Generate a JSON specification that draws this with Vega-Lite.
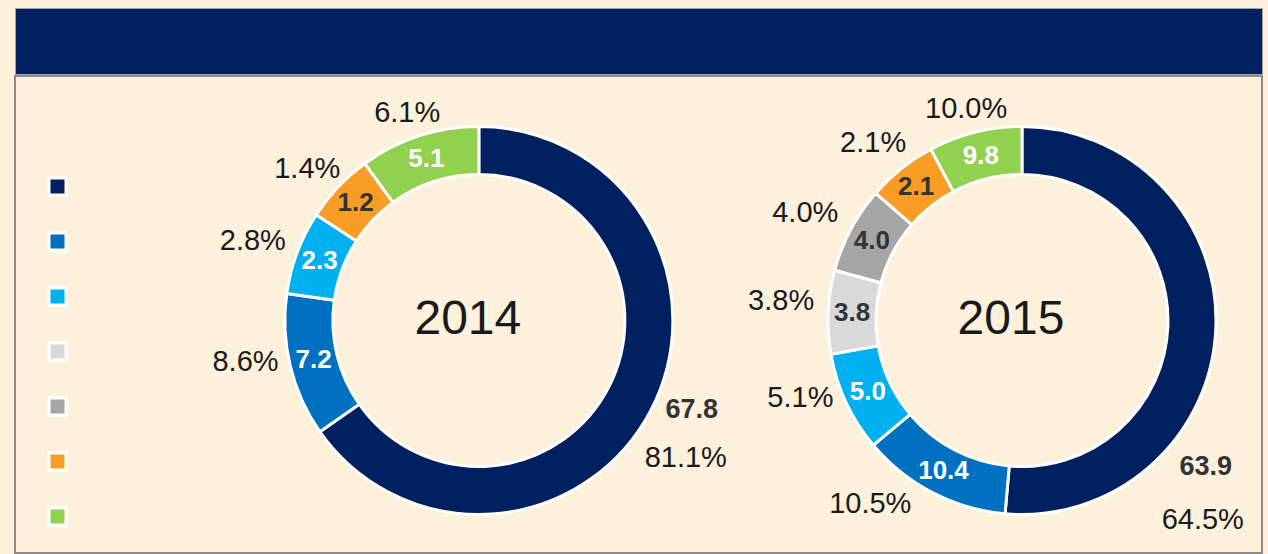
{
  "$schema": "https://vega.github.io/schema/vega-lite/v6.json",
  "background": "#FDF1DC",
  "padding": {"left": 14, "top": 7, "right": 7, "bottom": 2},
  "config": {"view": {"stroke": null}, "font": "Liberation Sans", "text": {"font": "Liberation Sans"}},
  "spacing": 0,
  "datasets": {
    "d": [
      {"year": "2014", "series": "S1", "value": 67.8, "share": 0.811, "arc": 235},
      {"year": "2014", "series": "S2", "value": 7.2, "share": 0.086, "arc": 43},
      {"year": "2014", "series": "S3", "value": 2.3, "share": 0.028, "arc": 25},
      {"year": "2014", "series": "S6", "value": 1.2, "share": 0.014, "arc": 21},
      {"year": "2014", "series": "S7", "value": 5.1, "share": 0.061, "arc": 36},
      {"year": "2015", "series": "S1", "value": 63.9, "share": 0.645, "arc": 185},
      {"year": "2015", "series": "S2", "value": 10.4, "share": 0.105, "arc": 45},
      {"year": "2015", "series": "S3", "value": 5.0, "share": 0.051, "arc": 30},
      {"year": "2015", "series": "S4", "value": 3.8, "share": 0.038, "arc": 25},
      {"year": "2015", "series": "S5", "value": 4.0, "share": 0.040, "arc": 26},
      {"year": "2015", "series": "S6", "value": 2.1, "share": 0.021, "arc": 21},
      {"year": "2015", "series": "S7", "value": 9.8, "share": 0.100, "arc": 28}
    ],
    "yrs": [{"year": "2014"}, {"year": "2015"}]
  },
  "vconcat": [
    {
      "width": 1247,
      "height": 66,
      "view": {"fill": "#002060", "stroke": "#A0A0A0", "strokeWidth": 1},
      "data": {"values": [{}]},
      "mark": {"type": "text"},
      "encoding": {"text": {"value": ""}}
    },
    {
      "width": 1247,
      "height": 477,
      "view": {"stroke": "#8C8C8C", "strokeWidth": 2},
      "data": {"name": "d"},
      "encoding": {
        "x": {"field": "year", "type": "nominal", "axis": null, "scale": {"type": "point", "domain": ["2014", "2015"], "padding": 0.648, "align": 0.659}},
        "theta": {"field": "arc", "type": "quantitative", "stack": "normalize", "scale": {"domain": [0, 1]}},
        "order": {"field": "series", "type": "ordinal"},
        "detail": {"field": "series", "type": "nominal"}
      },
      "layer": [
        {
          "transform": [{"filter": "datum.year === '2014'"}],
          "mark": {"type": "arc", "outerRadius": 194, "innerRadius": 146, "stroke": "#FFFFFF", "strokeWidth": 3, "yOffset": 6},
          "encoding": {
            "color": {"field": "series", "type": "nominal",
              "scale": {"domain": ["S1", "S2", "S3", "S4", "S5", "S6", "S7"], "range": ["#002060", "#0070C0", "#00B0F0", "#D9D9D9", "#A6A6A6", "#F99D26", "#92D050"]},
              "legend": {"orient": "none", "legendX": 32, "legendY": 168, "title": null, "symbolType": "square", "symbolSize": 306, "symbolStrokeColor": "#FFFFFF", "symbolStrokeWidth": 3.5, "symbolOpacity": 1, "labelExpr": "''", "rowPadding": 22}}
          }
        },
        {
          "transform": [{"filter": "datum.year === '2015'"}],
          "mark": {"type": "arc", "outerRadius": 194, "innerRadius": 146, "stroke": "#FFFFFF", "strokeWidth": 3, "yOffset": 6},
          "encoding": {"color": {"field": "series", "type": "nominal"}}
        },
        {
          "transform": [{"filter": "datum.year === '2014'"}],
          "mark": {"type": "text", "radius": 170, "fontSize": 26, "fontWeight": "bold", "yOffset": 6},
          "encoding": {
            "text": {"field": "value", "type": "quantitative", "format": ".1f"},
            "color": {"condition": {"test": "indexof(['S4','S5','S6'], datum.series) >= 0", "value": "#333333"}, "value": "#FFFFFF"},
            "opacity": {"condition": {"test": "datum.series === 'S1'", "value": 0}, "value": 1}
          }
        },
        {
          "transform": [{"filter": "datum.year === '2015'"}],
          "mark": {"type": "text", "radius": 170, "fontSize": 26, "fontWeight": "bold", "yOffset": 6},
          "encoding": {
            "text": {"field": "value", "type": "quantitative", "format": ".1f"},
            "color": {"condition": {"test": "indexof(['S4','S5','S6'], datum.series) >= 0", "value": "#333333"}, "value": "#FFFFFF"},
            "opacity": {"condition": {"test": "datum.series === 'S1'", "value": 0}, "value": 1}
          }
        },
        {
          "transform": [{"filter": "datum.year === '2014'"}],
          "mark": {"type": "text", "radius": 206, "align": "right", "baseline": "middle", "fontSize": 29, "color": "#1A1A1A", "yOffset": 6, "dy": -7, "clip": true},
          "encoding": {
            "text": {"field": "share", "type": "quantitative", "format": ".1%"},
            "opacity": {"condition": {"test": "indexof(['S2','S3'], datum.series) >= 0", "value": 1}, "value": 0}
          }
        },
        {
          "transform": [{"filter": "datum.year === '2014'"}],
          "mark": {"type": "text", "radius": 202, "align": "right", "baseline": "bottom", "fontSize": 29, "color": "#1A1A1A", "yOffset": 6, "dy": 3, "dx": 8, "clip": true},
          "encoding": {
            "text": {"field": "share", "type": "quantitative", "format": ".1%"},
            "opacity": {"condition": {"test": "datum.series === 'S6'", "value": 1}, "value": 0}
          }
        },
        {
          "transform": [{"filter": "datum.year === '2014'"}],
          "mark": {"type": "text", "radius": 206, "align": "center", "baseline": "bottom", "fontSize": 29, "color": "#1A1A1A", "yOffset": 6, "dy": 3, "dx": -8, "clip": true},
          "encoding": {
            "text": {"field": "share", "type": "quantitative", "format": ".1%"},
            "opacity": {"condition": {"test": "datum.series === 'S7'", "value": 1}, "value": 0}
          }
        },
        {
          "transform": [{"filter": "datum.year === '2015'"}],
          "mark": {"type": "text", "radius": 208, "align": "right", "baseline": "middle", "fontSize": 29, "color": "#1A1A1A", "yOffset": 6, "dy": -10, "clip": true},
          "encoding": {
            "text": {"field": "share", "type": "quantitative", "format": ".1%"},
            "opacity": {"condition": {"test": "indexof(['S3','S4','S5'], datum.series) >= 0", "value": 1}, "value": 0}
          }
        },
        {
          "transform": [{"filter": "datum.year === '2015'"}],
          "mark": {"type": "text", "radius": 202, "align": "right", "baseline": "bottom", "fontSize": 29, "color": "#1A1A1A", "yOffset": 6, "dy": -4, "dx": 10, "clip": true},
          "encoding": {
            "text": {"field": "share", "type": "quantitative", "format": ".1%"},
            "opacity": {"condition": {"test": "datum.series === 'S6'", "value": 1}, "value": 0}
          }
        },
        {
          "transform": [{"filter": "datum.year === '2015'"}],
          "mark": {"type": "text", "radius": 206, "align": "center", "baseline": "bottom", "fontSize": 29, "color": "#1A1A1A", "yOffset": 6, "dy": 3, "dx": -6, "clip": true},
          "encoding": {
            "text": {"field": "share", "type": "quantitative", "format": ".1%"},
            "opacity": {"condition": {"test": "datum.series === 'S7'", "value": 1}, "value": 0}
          }
        },
        {
          "transform": [{"filter": "datum.year === '2015'"}],
          "mark": {"type": "text", "radius": 207, "align": "right", "baseline": "top", "fontSize": 29, "color": "#1A1A1A", "yOffset": 6, "dx": -15, "dy": -14, "clip": true},
          "encoding": {
            "text": {"field": "share", "type": "quantitative", "format": ".1%"},
            "opacity": {"condition": {"test": "datum.series === 'S2'", "value": 1}, "value": 0}
          }
        },
        {
          "transform": [{"filter": "datum.year === '2014'"}],
          "mark": {"type": "text", "radius": 240, "fontSize": 27, "fontWeight": "bold", "color": "#333333", "yOffset": 6, "dy": -21, "clip": true},
          "encoding": {
            "text": {"field": "value", "type": "quantitative", "format": ".1f"},
            "opacity": {"condition": {"test": "datum.series === 'S1'", "value": 1}, "value": 0}
          }
        },
        {
          "transform": [{"filter": "datum.year === '2014'"}],
          "mark": {"type": "text", "radius": 240, "fontSize": 29, "color": "#1A1A1A", "yOffset": 6, "dy": 27, "dx": -6, "clip": true},
          "encoding": {
            "text": {"field": "share", "type": "quantitative", "format": ".1%"},
            "opacity": {"condition": {"test": "datum.series === 'S1'", "value": 1}, "value": 0}
          }
        },
        {
          "transform": [{"filter": "datum.year === '2015'"}],
          "mark": {"type": "text", "radius": 240, "fontSize": 27, "fontWeight": "bold", "color": "#333333", "yOffset": 6, "dy": 136, "dx": -56, "clip": true},
          "encoding": {
            "text": {"field": "value", "type": "quantitative", "format": ".1f"},
            "opacity": {"condition": {"test": "datum.series === 'S1'", "value": 1}, "value": 0}
          }
        },
        {
          "transform": [{"filter": "datum.year === '2015'"}],
          "mark": {"type": "text", "radius": 240, "fontSize": 29, "color": "#1A1A1A", "yOffset": 6, "dy": 189, "dx": -59, "clip": true},
          "encoding": {
            "text": {"field": "share", "type": "quantitative", "format": ".1%"},
            "opacity": {"condition": {"test": "datum.series === 'S1'", "value": 1}, "value": 0}
          }
        },
        {
          "data": {"name": "yrs"},
          "mark": {"type": "text", "fontSize": 48, "color": "#1A1A1A", "yOffset": 5, "dx": -11},
          "encoding": {"text": {"field": "year", "type": "nominal"}, "theta": null, "order": null, "detail": null}
        }
      ]
    }
  ]
}
